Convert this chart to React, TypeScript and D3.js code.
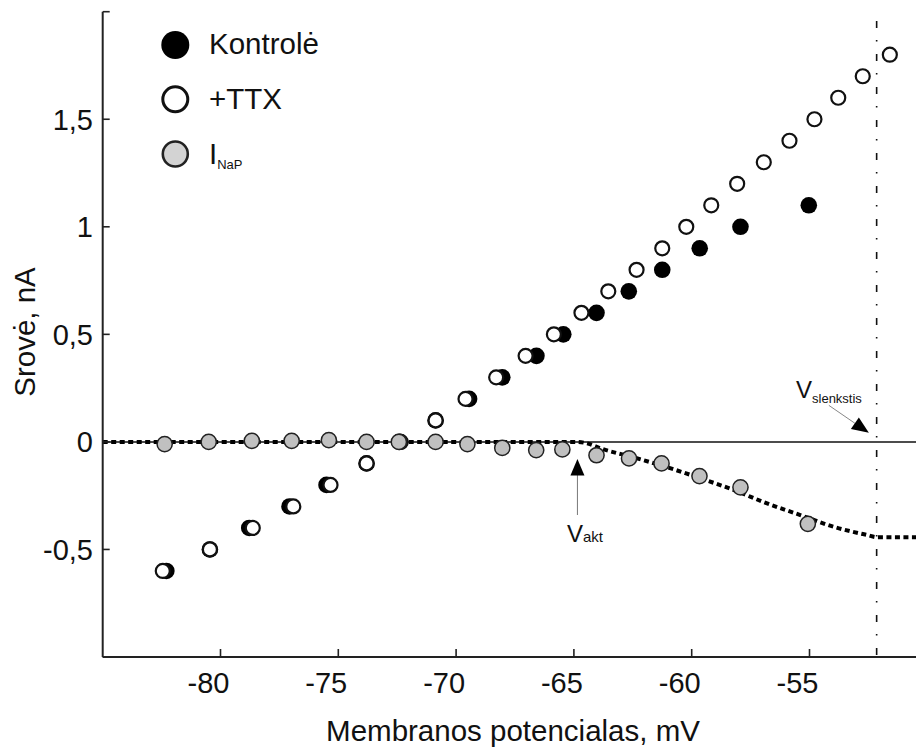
import React from 'react';
import * as d3 from 'd3';

const W = 916;
const H = 747;

// +TTX (open circles)
const ttxV = [-82.45, -80.45, -78.63, -76.91, -75.33, -73.8, -72.35, -70.87, -69.6, -68.3, -67.05, -65.85, -64.68, -63.54, -62.34, -61.25, -60.23, -59.17, -58.07, -56.94, -55.85, -54.79, -53.78, -52.74, -51.59];
const ttxI = [-0.6, -0.5, -0.4, -0.3, -0.2, -0.1, 0, 0.1, 0.2, 0.3, 0.4, 0.5, 0.6, 0.7, 0.8, 0.9, 1.0, 1.1, 1.2, 1.3, 1.4, 1.5, 1.6, 1.7, 1.8];

// Kontrolė (filled circles)
const ctrlV = [-82.3, -80.45, -78.78, -77.07, -75.5, -73.8, -72.4, -70.87, -69.45, -68.04, -66.59, -65.45, -64.04, -62.67, -61.25, -59.66, -57.93, -55.03];
const ctrlI = [-0.6, -0.5, -0.4, -0.3, -0.2, -0.1, 0, 0.1, 0.2, 0.3, 0.4, 0.5, 0.6, 0.7, 0.8, 0.9, 1.0, 1.1];

// I_NaP (grey circles)
const napV = [-82.37, -80.5, -78.67, -76.98, -75.4, -73.8, -72.43, -70.87, -69.52, -68.04, -66.6, -65.49, -64.04, -62.66, -61.28, -59.67, -57.93, -55.07];
const napI = [-0.01, 0, 0.005, 0.005, 0.008, 0, 0, 0, -0.01, -0.028, -0.038, -0.035, -0.062, -0.077, -0.1, -0.159, -0.211, -0.381];

// Fitted I_NaP curve (dotted)
const fitV = [-85, -64.9, -64.4, -63.87, -62.46, -61.04, -59.63, -58.21, -56.8, -55.39, -53.97, -52.55, -52.13, -50];
const fitI = [0, 0, -0.008, -0.03, -0.072, -0.118, -0.169, -0.224, -0.286, -0.34, -0.395, -0.433, -0.443, -0.443];

const xTicks = [-80, -75, -70, -65, -60, -55];
const yTicks = [-0.5, 0, 0.5, 1, 1.5];
const yTickMarks = [-1, -0.5, 0, 0.5, 1, 1.5, 2];

const vAkt = -64.85;
const vThreshold = -52.15;

const FONT = "'Liberation Sans', Arial, sans-serif";

const fmt = (v: number) => String(v).replace('.', ',');

export default function App() {
  const x = d3.scaleLinear().domain([-85, -50]).range([102.7, 927.3]);
  const y = d3.scaleLinear().domain([-1, 2]).range([657, 11.7]);

  const fitPts: [number, number][] = fitV.map((v, i) => [v, fitI[i]]);
  const fitPath = d3
    .line<[number, number]>()
    .x((d) => x(d[0]))
    .y((d) => y(d[1]))
    .curve(d3.curveMonotoneX)(fitPts) as string;

  const x0 = x(-85);
  const yb = y(-1);
  const yTop = y(2);

  // Vakt arrow geometry
  const akX = x(vAkt);
  const akTip = y(-0.08);

  // Vslenkstis arrow geometry
  const tip: [number, number] = [x(-52.48), y(0.042)];
  const tail: [number, number] = [tip[0] - 40, tip[1] - 27.5];
  const dx = tip[0] - tail[0];
  const dy = tip[1] - tail[1];
  const len = Math.hypot(dx, dy);
  const ux = dx / len;
  const uy = dy / len;
  const hl = 17;
  const hw = 7;
  const bx = tip[0] - ux * hl;
  const by = tip[1] - uy * hl;
  const headPts = `${tip[0]},${tip[1]} ${bx - uy * hw},${by + ux * hw} ${bx + uy * hw},${by - ux * hw}`;

  return (
    <svg
      width={W}
      height={H}
      style={{ position: 'absolute', left: 0, top: 0, background: '#fff' }}
      fontFamily={FONT}
    >
      <rect x={0} y={0} width={W} height={H} fill="#fff" />

      {/* zero current line */}
      <line x1={x0} x2={W} y1={y(0)} y2={y(0)} stroke="#111" strokeWidth={1.5} />

      {/* threshold dash-dot line */}
      <line
        x1={x(vThreshold)}
        x2={x(vThreshold)}
        y1={15}
        y2={yb}
        stroke="#111"
        strokeWidth={1.6}
        strokeDasharray="7,12,1.5,12.5"
        strokeDashoffset={-6}
      />

      {/* fitted curve */}
      <path d={fitPath} fill="none" stroke="#000" strokeWidth={4} strokeDasharray="5,3.5" />

      {/* axes */}
      <line x1={x0} x2={x0} y1={yTop} y2={yb} stroke="#222" strokeWidth={2} />
      <line x1={x0} x2={W} y1={yb} y2={yb} stroke="#222" strokeWidth={2} />
      {yTickMarks.map((t) => (
        <line key={'yt' + t} x1={x0} x2={x0 + 7} y1={y(t)} y2={y(t)} stroke="#222" strokeWidth={1.6} />
      ))}
      {xTicks.map((t) => (
        <line key={'xt' + t} x1={x(t)} x2={x(t)} y1={yb} y2={yb - 8} stroke="#222" strokeWidth={1.6} />
      ))}
      {yTicks.map((t) => (
        <text key={'yl' + t} x={93} y={y(t) + 10.5} fontSize={29} textAnchor="end" fill="#111">
          {fmt(t)}
        </text>
      ))}
      {xTicks.map((t) => (
        <text key={'xl' + t} x={x(t) - 12} y={693} fontSize={29} textAnchor="middle" fill="#111">
          {fmt(t)}
        </text>
      ))}

      <text x={513} y={741} fontSize={29.5} textAnchor="middle" fill="#111">
        Membranos potencialas, mV
      </text>
      <text
        transform={`translate(35, 332) rotate(-90)`}
        fontSize={29.5}
        textAnchor="middle"
        fill="#111"
      >
        Srovė, nA
      </text>

      {/* Kontrolė */}
      {ctrlV.map((v, i) => (
        <circle key={'c' + i} cx={x(v)} cy={y(ctrlI[i])} r={8.3} fill="#000" />
      ))}
      {/* +TTX */}
      {ttxV.map((v, i) => (
        <circle key={'t' + i} cx={x(v)} cy={y(ttxI[i])} r={7} fill="#fff" stroke="#111" strokeWidth={2.2} />
      ))}
      {/* I_NaP */}
      {napV.map((v, i) => (
        <circle key={'n' + i} cx={x(v)} cy={y(napI[i])} r={7.6} fill="#c0c0c0" stroke="#222" strokeWidth={1.5} />
      ))}

      {/* Vakt annotation */}
      <line x1={akX} x2={akX} y1={akTip + 14} y2={515} stroke="#777" strokeWidth={1} />
      <polygon points={`${akX},${akTip} ${akX - 7},${akTip + 16.5} ${akX + 7},${akTip + 16.5}`} fill="#000" />
      <text x={567} y={541.7} fontSize={24} fill="#111">
        V<tspan fontSize={15}>akt</tspan>
      </text>

      {/* Vslenkstis annotation */}
      <line x1={tail[0]} y1={tail[1]} x2={bx} y2={by} stroke="#888" strokeWidth={1} />
      <polygon points={headPts} fill="#000" />
      <text x={796} y={398.3} fontSize={24} fill="#111">
        V<tspan fontSize={13} dy={5}>slenkstis</tspan>
      </text>

      {/* legend */}
      <circle cx={175.3} cy={45} r={14} fill="#000" />
      <text x={209} y={53.5} fontSize={29.5} fill="#111">Kontrolė</text>
      <circle cx={175.3} cy={99.3} r={12.5} fill="#fff" stroke="#111" strokeWidth={3} />
      <text x={209} y={109.3} fontSize={29.5} fill="#111">+TTX</text>
      <circle cx={175.3} cy={154} r={12.5} fill="#d3d3d3" stroke="#222" strokeWidth={2.6} />
      <text x={209} y={163.5} fontSize={29.5} fill="#111">
        I<tspan fontSize={13} dy={5}>NaP</tspan>
      </text>
    </svg>
  );
}
